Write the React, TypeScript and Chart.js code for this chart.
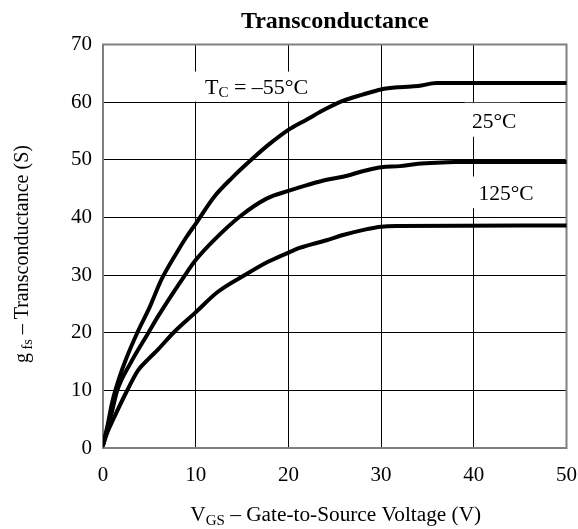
import React, { useEffect, useRef } from 'react';
import { Chart, registerables } from 'chart.js';

Chart.register(...registerables);

// ---- data ----
const vgsM55 = [0, 0.5, 1, 1.8, 2.5, 3.7, 5, 6.3, 8, 9, 10, 12, 14, 16.2, 18, 20, 22, 24, 26, 28, 30, 32, 34, 36, 50];
const gfsM55 = [0.5, 4, 8, 12.4, 15.5, 20, 24.3, 29.2, 34.0, 36.6, 38.9, 43.6, 47, 50.3, 52.8, 55.2, 57, 58.8, 60.3, 61.3, 62.2, 62.6, 62.8, 63.3, 63.3];

const vgs25 = [0, 0.5, 1, 1.5, 3, 4.9, 6, 8.85, 10, 12, 14.8, 17.7, 20, 22, 24, 26, 28, 30, 32, 34, 36, 38, 50];
const gfs25 = [0.5, 3.5, 6.5, 9.8, 14.8, 20, 23, 30, 32.6, 36.1, 40.2, 43.3, 44.6, 45.6, 46.5, 47.1, 48.0, 48.7, 48.9, 49.3, 49.5, 49.6, 49.6];

const vgs125 = [0, 0.5, 1, 2.55, 3.8, 5, 6, 7.6, 9.9, 12.4, 15.3, 17.8, 20.3, 21.2, 24, 26, 28, 30, 32, 50];
const gfs125 = [0.5, 2.8, 4.6, 9.8, 13.5, 15.6, 17.2, 20, 23.4, 27.1, 30, 32.3, 34.1, 34.7, 36, 37, 37.8, 38.4, 38.5, 38.6];

const xTickValues = [0, 10, 20, 30, 40, 50];
const yTickValues = [0, 10, 20, 30, 40, 50, 60, 70];

const chartTitle = 'Transconductance';
const xTitleMain = 'V';
const xTitleSub = 'GS';
const xTitleRest = ' – Gate-to-Source Voltage (V)';
const yTitleMain = 'g';
const yTitleSub = ' fs';
const yTitleRest = ' – Transconductance (S)';

// curve labels: main text, subscript, rest; anchor (data coords, left/baseline)
const labelMain = ['T', '25°C', '125°C'];
const labelSub = ['C', '', ''];
const labelRest = [' = –55°C', '', ''];
const labelSize = [22, 21.5, 21.5];
const labelX = [11.0, 39.8, 40.5];
const labelY = [61.46, 55.6, 43.05];
// white boxes behind the labels (data coords)
const boxX0 = [9.5, 39, 39];
const boxX1 = [22.5, 45, 46];
const boxY0 = [60.1, 54.0, 41.6];
const boxY1 = [65.3, 59.9, 47.1];

const W = 578;
const H = 529;
const AREA_LEFT = 103;
const AREA_RIGHT = 566.5;
const AREA_TOP = 44.5;
const AREA_BOTTOM = 448;

const SERIF = "'Liberation Serif', 'Times New Roman', serif";

type Run = { t: string; size: number; dy: number; bold?: boolean };

function runsWidth(ctx: CanvasRenderingContext2D, runs: Run[]) {
  let w = 0;
  for (const r of runs) {
    ctx.font = `${r.bold ? 'bold ' : ''}${r.size}px ${SERIF}`;
    w += ctx.measureText(r.t).width;
  }
  return w;
}

function drawRuns(ctx: CanvasRenderingContext2D, runs: Run[], x: number, y: number, align: 'left' | 'center') {
  let cx = align === 'center' ? x - runsWidth(ctx, runs) / 2 : x;
  ctx.textAlign = 'left';
  ctx.textBaseline = 'alphabetic';
  for (const r of runs) {
    ctx.font = `${r.bold ? 'bold ' : ''}${r.size}px ${SERIF}`;
    ctx.fillText(r.t, cx, y + r.dy);
    cx += ctx.measureText(r.t).width;
  }
}

const decorPlugin = {
  id: 'decor',
  beforeDatasetsDraw(chart: any) {
    const ctx = chart.ctx as CanvasRenderingContext2D;
    const xs = chart.scales.x;
    const ys = chart.scales.y;
    const a = chart.chartArea;
    ctx.save();
    ctx.fillStyle = '#fff';
    for (let i = 0; i < boxX0.length; i++) {
      const x0 = xs.getPixelForValue(boxX0[i]);
      const x1 = xs.getPixelForValue(boxX1[i]);
      const y0 = ys.getPixelForValue(boxY1[i]);
      const y1 = ys.getPixelForValue(boxY0[i]);
      ctx.fillRect(x0, y0, x1 - x0, y1 - y0);
    }
    ctx.strokeStyle = '#808080';
    ctx.lineWidth = 2;
    ctx.strokeRect(a.left, a.top, a.right - a.left, a.bottom - a.top);
    ctx.restore();
  },
  afterDraw(chart: any) {
    const ctx = chart.ctx as CanvasRenderingContext2D;
    const xs = chart.scales.x;
    const ys = chart.scales.y;
    const a = chart.chartArea;
    const cx = (a.left + a.right) / 2;
    ctx.save();
    ctx.fillStyle = '#000';
    // title
    drawRuns(ctx, [{ t: chartTitle, size: 24, dy: 0, bold: true }], cx, 27.5, 'center');
    // x title
    drawRuns(
      ctx,
      [
        { t: xTitleMain, size: 21.3, dy: 0 },
        { t: xTitleSub, size: 15, dy: 4 },
        { t: xTitleRest, size: 21.3, dy: 0 },
      ],
      cx + 1,
      520.5,
      'center'
    );
    // y title (rotated)
    ctx.save();
    ctx.translate(28, 254);
    ctx.rotate(-Math.PI / 2);
    drawRuns(
      ctx,
      [
        { t: yTitleMain, size: 20, dy: 0 },
        { t: yTitleSub, size: 14, dy: 4 },
        { t: yTitleRest, size: 20, dy: 0 },
      ],
      0,
      0,
      'center'
    );
    ctx.restore();
    // curve labels
    for (let i = 0; i < labelMain.length; i++) {
      const px = xs.getPixelForValue(labelX[i]);
      const py = ys.getPixelForValue(labelY[i]);
      const s = labelSize[i];
      const runs: Run[] = [{ t: labelMain[i], size: s, dy: 0 }];
      if (labelSub[i]) runs.push({ t: labelSub[i], size: 15, dy: 3 });
      if (labelRest[i]) runs.push({ t: labelRest[i], size: s, dy: 0 });
      drawRuns(ctx, runs, px, py, 'left');
    }
    ctx.restore();
  },
};

function toPoints(xs: number[], ys: number[]) {
  return xs.map((x, i) => ({ x, y: ys[i] }));
}

export default function App() {
  const ref = useRef<HTMLCanvasElement>(null);

  useEffect(() => {
    const canvas = ref.current;
    if (!canvas) return;
    const tickFont = { family: SERIF, size: 21 };
    const lineStyle = {
      borderColor: '#000',
      backgroundColor: '#000',
      borderWidth: 4,
      pointRadius: 0,
      fill: false,
      cubicInterpolationMode: 'monotone' as const,
      borderCapStyle: 'round' as const,
      borderJoinStyle: 'round' as const,
    };
    const chart = new Chart(canvas, {
      type: 'line',
      data: {
        datasets: [
          { label: '-55°C', data: toPoints(vgsM55, gfsM55), ...lineStyle },
          { label: '25°C', data: toPoints(vgs25, gfs25), ...lineStyle },
          { label: '125°C', data: toPoints(vgs125, gfs125), ...lineStyle },
        ],
      },
      options: {
        responsive: false,
        animation: false,
        devicePixelRatio: 1,
        layout: { padding: { top: AREA_TOP, right: W - AREA_RIGHT, left: 0, bottom: 0 } },
        plugins: {
          legend: { display: false },
          tooltip: { enabled: false },
          title: { display: false },
        },
        scales: {
          x: {
            type: 'linear',
            min: 0,
            max: 50,
            afterBuildTicks: (s: any) => {
              s.ticks = xTickValues.map((v) => ({ value: v }));
            },
            ticks: { font: tickFont, color: '#000', padding: 15, maxRotation: 0, autoSkip: false },
            grid: { color: '#000', lineWidth: 1, drawTicks: false },
            border: { display: false },
            afterFit: (s: any) => {
              s.height = H - AREA_BOTTOM;
              s.paddingLeft = 0;
              s.paddingRight = 0;
            },
          },
          y: {
            type: 'linear',
            min: 0,
            max: 70,
            afterBuildTicks: (s: any) => {
              s.ticks = yTickValues.map((v) => ({ value: v }));
            },
            ticks: { font: tickFont, color: '#000', padding: 11, autoSkip: false },
            grid: { color: '#000', lineWidth: 1, drawTicks: false },
            border: { display: false },
            afterFit: (s: any) => {
              s.width = AREA_LEFT;
              s.paddingTop = 0;
              s.paddingBottom = 0;
            },
          },
        },
      },
      plugins: [decorPlugin],
    });
    return () => chart.destroy();
  }, []);

  return (
    <div style={{ position: 'absolute', left: 0, top: 0, width: W, height: H, background: '#fff' }}>
      <canvas ref={ref} width={W} height={H} style={{ width: W, height: H, display: 'block' }} />
    </div>
  );
}
